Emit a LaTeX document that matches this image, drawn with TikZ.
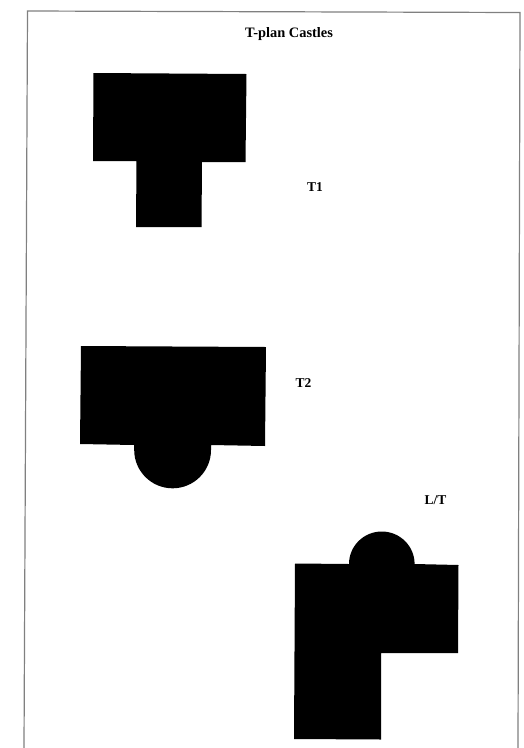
\documentclass[tikz,border=0pt]{standalone}
\usepackage{fontspec}
\setmainfont{Liberation Serif}
\tikzset{px/.style={x=1pt,y=-1pt},solidshape/.style={fill=black,draw=none},lbl/.style={font=\bfseries\fontsize{13.5}{15}\selectfont,text=black,inner sep=0pt}}
\begin{document}
\begin{tikzpicture}[px]
\useasboundingbox (0,0) rectangle (523,748);
\fill[white] (0,0) rectangle (523,748);
\draw[black!50,line width=1.2pt] (24,748) -- (27.5,11) -- (520,12.5) -- (518,748);
\node[lbl,font=\bfseries\fontsize{14.4}{16}\selectfont] (title) at (289,34.5) {T-plan Castles};
\node[lbl] (t1) at (315,187) {T1};
\node[lbl] (t2) at (303.5,383) {T2};
\node[lbl] (lt) at (435.5,500) {L/T};
\fill[solidshape] (93.5,73) -- (246.5,74) -- (245.5,162) -- (202,162) -- (201.5,227) -- (136,227) -- (136.5,161) -- (93,161) -- cycle;
\fill[solidshape] (81,346) -- (266,347) -- (265,446) -- (211,445) -- (211,450) arc (0:180:38.4 and 38.3) -- (134.2,445) -- (80,444) -- cycle;
\fill[solidshape] (295,563.5) -- (349,564) arc (180:360:32.8 and 32.5) -- (458.5,565) -- (458,653) -- (381,653) -- (381,739.5) -- (294,739) -- cycle;
\end{tikzpicture}
\end{document}
